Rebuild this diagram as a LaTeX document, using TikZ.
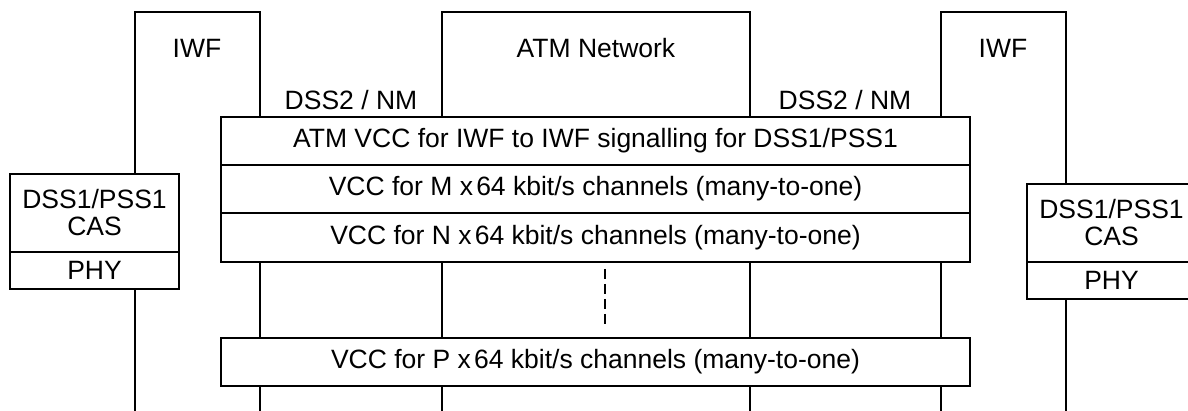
\documentclass[tikz,border=0pt]{standalone}
\usepackage{fontspec}
\setmainfont{Liberation Sans}
\begin{document}
\begin{tikzpicture}[x=1pt,y=-1pt,
  line width=1.6pt,
  lbl/.style={inner sep=0pt,font=\fontsize{26.5}{30}\selectfont},
  layer/.style={draw,rectangle,inner sep=0pt,font=\fontsize{26.5}{30}\selectfont},
  dashln/.style={dash pattern=on 10pt off 5pt}]
\useasboundingbox (0,0) rectangle (1188,411);
\clip (0,0) rectangle (1188,411);
% stack
\node[layer,minimum width=749pt,minimum height=48pt] (r1) at (595.5,141) {ATM VCC for IWF to IWF signalling for DSS1/PSS1};
\node[layer,minimum width=749pt,minimum height=48pt] (r2) at (595.5,189) {VCC for M x\kern0.12em 64 kbit/s channels (many-to-one)};
\node[layer,minimum width=749pt,minimum height=49pt] (r3) at (595.5,237.5) {VCC for N x\kern0.12em 64 kbit/s channels (many-to-one)};
\node[layer,minimum width=749pt,minimum height=48pt] (r4) at (595.5,362) {VCC for P x\kern0.12em 64 kbit/s channels (many-to-one)};
% left end box
\node[layer,minimum width=169pt,minimum height=78pt,align=center] (ld) at (94.5,213) {DSS1/PSS1\\[-3pt]CAS};
\node[layer,minimum width=169pt,minimum height=37pt] (lp) at (94.5,270.5) {PHY};
% right end box
\node[layer,minimum width=169pt,minimum height=78pt,align=center] (rd) at (1111.5,223) {DSS1/PSS1\\[-3pt]CAS};
\node[layer,minimum width=169pt,minimum height=37pt] (rp) at (1111.5,280.5) {PHY};
% labels
\node[lbl] (iwfl) at (197,48) {IWF};
\node[lbl] (atm) at (596,48) {ATM Network};
\node[lbl] (iwfr) at (1003,48) {IWF};
\node[lbl] (nml) at (351,100) {DSS2 / NM};
\node[lbl] (nmr) at (845,100) {DSS2 / NM};
% top coordinates
\coordinate (a1) at (135,12); \coordinate (a2) at (260,12);
\coordinate (b1) at (442,12); \coordinate (b2) at (750,12);
\coordinate (c1) at (941,12); \coordinate (c2) at (1066,12);
\coordinate (bot1) at (135,411); \coordinate (bot2) at (260,411);
\coordinate (bot3) at (442,411); \coordinate (bot4) at (750,411);
\coordinate (bot5) at (941,411); \coordinate (bot6) at (1066,411);
% left IWF
\draw (ld.north -| a1) -- (a1) -- (a2) -- (r1.north -| a2);
\draw (lp.south -| a1) -- (bot1);
\draw (r3.south -| a2) -- (r4.north -| a2);
\draw (r4.south -| a2) -- (bot2);
% ATM network
\draw (r1.north -| b1) -- (b1) -- (b2) -- (r1.north -| b2);
\draw (r3.south -| b1) -- (r4.north -| b1);
\draw (r4.south -| b1) -- (bot3);
\draw (r3.south -| b2) -- (r4.north -| b2);
\draw (r4.south -| b2) -- (bot4);
% right IWF
\draw (r1.north -| c1) -- (c1) -- (c2) -- (rd.north -| c2);
\draw (r3.south -| c1) -- (r4.north -| c1);
\draw (r4.south -| c1) -- (bot5);
\draw (rp.south -| c2) -- (bot6);
% dashed
\coordinate (d1) at (605,269); \coordinate (d2) at (605,325);
\draw[dashln,line width=1.4pt] (d1) -- (d2);
\end{tikzpicture}
\end{document}
